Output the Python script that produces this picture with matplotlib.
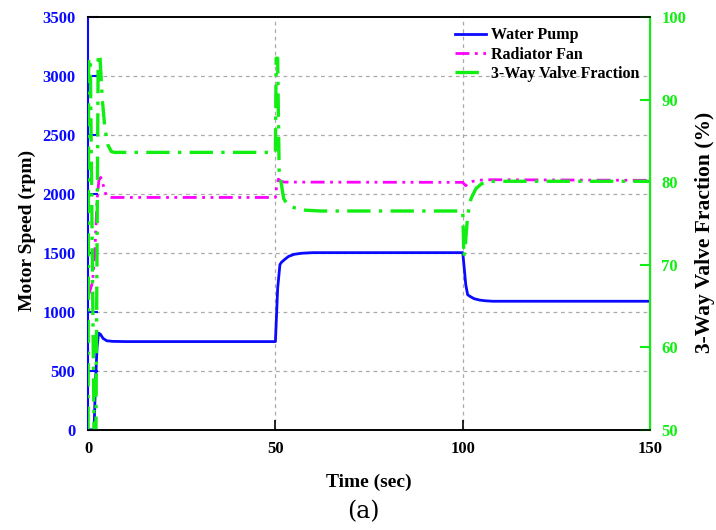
import matplotlib.pyplot as plt
import numpy as np

plt.rcParams['font.family'] = ['Liberation Serif', 'DejaVu Serif']
plt.rcParams['font.weight'] = 'bold'

# time (sec) / motor speed (rpm) for the water pump
pump_t = [0, 1.6, 2.0, 2.4, 2.8, 3.3, 4.0, 5.0, 6.5, 10, 50, 50.2, 50.6, 51.2, 51.6,
          52.5, 53.5, 55, 57, 60, 100, 100.3, 100.8, 101.3, 102, 103, 104.5, 106, 108, 150]
pump_v = [0, 0, 420, 700, 820, 810, 775, 755, 750, 748, 748, 900, 1200, 1400, 1420,
          1445, 1470, 1488, 1497, 1502, 1502, 1400, 1230, 1145, 1130, 1112, 1100, 1094, 1090, 1090]

# radiator fan speed (rpm)
fan_t = [0, 0.5, 1.2, 1.8, 2.4, 2.9, 3.4, 4.0, 4.6, 5.2, 6, 50, 50.3, 50.8, 51.5,
         52.5, 54, 100, 100.3, 100.8, 101.5, 102.5, 104, 106, 110, 150]
fan_v = [1130, 1180, 1250, 1500, 1950, 2120, 2140, 2080, 2010, 1975, 1970, 1970, 2060, 2125, 2105,
         2100, 2100, 2098, 2085, 2070, 2090, 2105, 2115, 2120, 2120, 2115]

# 3-way valve fraction (%)
valve_t = [0, 0.15, 0.6, 1.6, 2.1, 2.7, 3.2, 3.8, 4.5, 5.3, 6.2, 7, 50, 50.2, 50.6, 51.0,
           51.5, 52.2, 53.2, 55, 58, 62, 100, 100.3, 100.7, 101.3, 102.2, 103.5, 105, 107, 110, 150]
valve_v = [50, 95, 95, 50, 50, 95.5, 95, 90, 86.5, 84.5, 83.7, 83.6, 83.6, 95, 95, 81,
           80, 78, 77.3, 76.9, 76.6, 76.5, 76.5, 71, 72.5, 76, 78, 79.2, 79.8, 80.1, 80.1, 80.1]

left_ticks = [0, 500, 1000, 1500, 2000, 2500, 3000, 3500]
right_ticks = [50, 60, 70, 80, 90, 100]
x_ticks = [0, 50, 100, 150]

blue = '#0a0aff'
magenta = '#ff00ff'
green = '#11ee11'

fig = plt.figure(figsize=(7.16, 5.30), dpi=100)
ax = fig.add_axes([0.123, 0.189, 0.785, 0.779])
ax2 = ax.twinx()

l1, = ax.plot(pump_t, pump_v, color=blue, lw=2, label='Water Pump', zorder=3)
l2, = ax.plot(fan_t, fan_v, color=magenta, lw=2, dashes=(5, 2, 1, 2, 1, 2), label='Radiator Fan', zorder=3)
l3, = ax2.plot(valve_t, valve_v, color=green, lw=2.4, dashes=(7, 2.5, 1, 2.5), label='3-Way Valve Fraction')

ax.set_xlim(0, 150)
ax.set_ylim(0, 3500)
ax2.set_ylim(50, 100)
ax.set_xticks(x_ticks)
ax.set_yticks(left_ticks)
ax2.set_yticks(right_ticks)

for y in left_ticks[1:-1]:
    ax.axhline(y, color='#aaaaaa', lw=0.9, ls=(0, (3, 3)), zorder=1)
for x in [50, 100]:
    ax.axvline(x, color='#aaaaaa', lw=0.9, ls=(0, (3, 3)), zorder=1)

ax.tick_params(axis='y', direction='in', length=7, width=1.5, color=blue, labelcolor=blue, labelsize=12, pad=9)
ax.tick_params(axis='x', direction='in', length=7, width=1.2, labelsize=12, pad=8)
ax2.tick_params(axis='y', direction='in', length=7, width=1.5, color=green, labelcolor=green, labelsize=12, pad=8)

ax.spines['left'].set_color(blue)
ax.spines['left'].set_linewidth(1.5)
ax2.spines['left'].set_visible(False)
ax2.spines['right'].set_color(green)
ax2.spines['right'].set_linewidth(1.5)
for sp in ['top', 'bottom']:
    ax.spines[sp].set_linewidth(1.2)
    ax2.spines[sp].set_linewidth(1.2)

ax.set_xlabel('Time (sec)', fontsize=14, fontweight='bold', labelpad=12)
ax.set_ylabel('Motor Speed (rpm)', fontsize=14, fontweight='bold')
ax.yaxis.set_label_coords(-0.092, 0.482)
ax2.set_ylabel('3-Way Valve Fraction (%)', fontsize=15.5, fontweight='bold')
ax2.yaxis.set_label_coords(1.080, 0.479)

ax2.legend(handles=[l1, l2, l3], loc='upper right', bbox_to_anchor=(1.0, 1.0), frameon=False,
           prop={'size': 11.5, 'weight': 'bold'}, handlelength=1.9, handletextpad=0.35,
           labelspacing=0.2, borderaxespad=0.25)

fig.text(0.507, 0.013, '(a)', ha='center', va='bottom', fontsize=17, fontweight='normal',
         family='DejaVu Serif')

fig.savefig('out.png', dpi=100)
